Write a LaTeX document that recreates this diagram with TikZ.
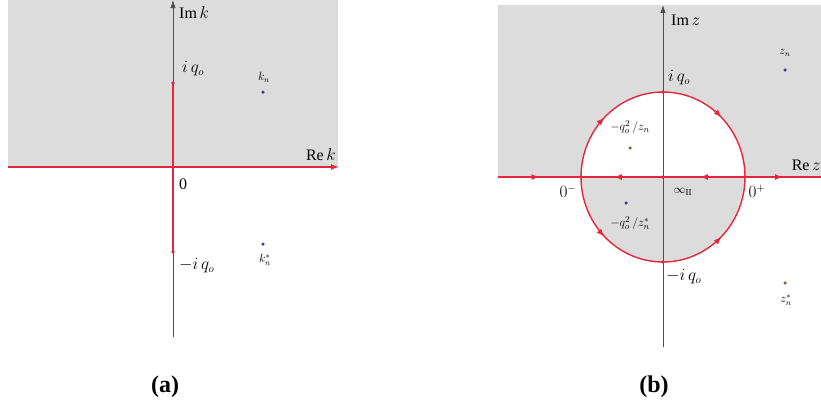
\documentclass[tikz,border=0pt]{standalone}
\usepackage{fontspec}
\setmainfont{Liberation Serif}
\usetikzlibrary{arrows.meta,decorations.markings}
\definecolor{cred}{RGB}{226,40,58}
\definecolor{cgray}{RGB}{220,220,220}
\definecolor{caxis}{RGB}{80,80,80}
\definecolor{cblue}{RGB}{60,60,140}
\definecolor{cbrown}{RGB}{140,90,50}
\tikzset{
  axis/.style={draw=caxis,line width=0.8bp},
  redline/.style={draw=cred,line width=1.4bp},
  reddot/.style={circle,fill=cred,inner sep=0pt,minimum size=3.6bp},
  bdot/.style={circle,fill=cblue,inner sep=0pt,minimum size=3.5bp},
  brdot/.style={circle,fill=cbrown,inner sep=0pt,minimum size=3.5bp},
  axlab/.style={inner sep=1bp,font=\fontsize{16bp}{18bp}\selectfont},
  biglab/.style={inner sep=1bp,font=\fontsize{16bp}{18bp}\selectfont},
  lab/.style={inner sep=1bp,font=\fontsize{13bp}{15bp}\selectfont},
  slab/.style={inner sep=1bp,font=\fontsize{12bp}{14bp}\selectfont},
  caplab/.style={inner sep=1bp,font=\fontsize{24bp}{26bp}\selectfont\bfseries},
  midarrow/.style={postaction={decorate,decoration={markings,
      mark=at position #1 with {\arrow[cred]{Latex[length=8bp,width=6bp]}}}}},
}
\begin{document}
\begin{tikzpicture}[x=1bp,y=-1bp]
\useasboundingbox (0,0) rectangle (821,412);
% ---------- panel (a) ----------
\fill[cgray] (8,0) rectangle (338,167);
\coordinate (aTop) at (173,0);
\coordinate (aBot) at (173,337);
\draw[axis,-{Latex[length=8bp,width=5.5bp]}] (aBot) -- (aTop);
\coordinate (aL) at (8,167);
\coordinate (aR) at (339,167);
\node[reddot] (a0) at (173,167) {};
\node[reddot] (aiq) at (173,83) {};
\node[reddot] (amiq) at (173,252) {};
\draw[redline] (aiq.center) -- (amiq.center);
\draw[redline,-{Latex[length=8bp,width=6bp]}] (aL) -- (aR);
\node[bdot] (kn) at (263,92) {};
\node[bdot] (knc) at (263,244) {};
\node[axlab,anchor=west] (Imk) at (178,13) {Im\,$k$};
\node[axlab,anchor=south east] (Rek) at (337,162) {Re\,$k$};
\node[biglab,anchor=west] (liq) at (181,69) {$i\,q_o$};
\node[biglab,anchor=west] (l0) at (178,184) {0};
\node[biglab,anchor=west] (lmiq) at (178,266) {$-i\,q_o$};
\node[slab] (lkn) at (264,77) {$k_n$};
\node[slab] (lknc) at (265,260) {$k_n^*$};
\node[caplab] (capa) at (165,387) {(a)};
% ---------- panel (b) ----------
\fill[cgray] (498,5) rectangle (821,177);
\fill[white] (581,177) arc[start angle=180,end angle=360,x radius=82,y radius=85] -- cycle;
\fill[cgray] (581,177) arc[start angle=180,end angle=0,x radius=82,y radius=85] -- cycle;
\coordinate (bTop) at (663,5);
\coordinate (bBot) at (663,347);
\draw[axis,-{Latex[length=8bp,width=5.5bp]}] (bBot) -- (bTop);
\coordinate (bL) at (498,177);
\coordinate (bR) at (821,177);
\node[reddot] (bm) at (581,177) {};
\node[reddot] (bp) at (745,177) {};
\node[reddot] (bc) at (663,177) {};
\node[reddot] (biq) at (663,92) {};
\node[reddot] (bmiq) at (663,262) {};
\draw[redline,midarrow=0.25,midarrow=0.75] (bm.center) arc[start angle=180,end angle=360,x radius=82,y radius=85];
\draw[redline,midarrow=0.25,midarrow=0.75] (bm.center) arc[start angle=180,end angle=0,x radius=82,y radius=85];
\draw[redline,midarrow=0.5] (bL) -- (bm.center);
\draw[redline,midarrow=0.55] (bp.center) -- (bc.center);
\draw[redline,midarrow=0.6] (bc.center) -- (bm.center);
\draw[redline,midarrow=0.5] (bp.center) -- (bR);
\node[bdot] (zn) at (785,70) {};
\node[brdot] (w1) at (630,148) {};
\node[bdot] (w2) at (626,203) {};
\node[brdot] (znc) at (785,283) {};
\node[axlab,anchor=west] (Imz) at (670,20) {Im\,$z$};
\node[axlab,anchor=south east] (Rez) at (822,172) {Re\,$z$};
\node[biglab,anchor=west] (bliq) at (667,78) {$i\,q_o$};
\node[biglab,anchor=west] (blmiq) at (665,277) {$-i\,q_o$};
\node[biglab] (l0m) at (568,191) {$0^{-}$};
\node[biglab] (l0p) at (757,191) {$0^{+}$};
\node[lab] (linf) at (683,192) {$\infty_{\mathrm{II}}$};
\node[lab] (lw1) at (630,127) {$-q_o^2\,/z_n$};
\node[lab] (lw2) at (630,223) {$-q_o^2\,/z_n^*$};
\node[slab] (lzn) at (785,53) {$z_n$};
\node[slab] (lznc) at (786,300) {$z_n^*$};
\node[caplab] (capb) at (654,387) {(b)};
\end{tikzpicture}
\end{document}
